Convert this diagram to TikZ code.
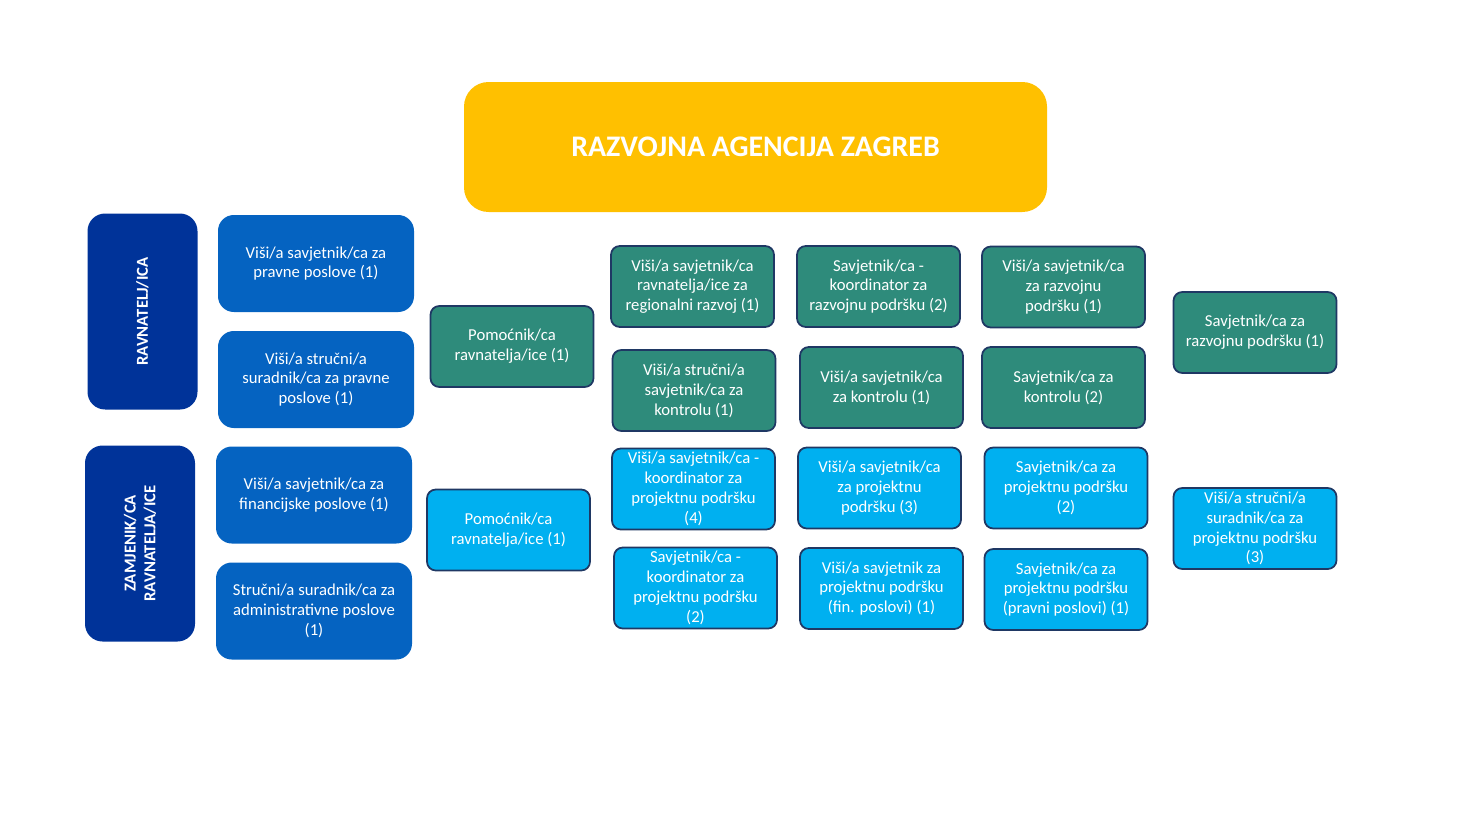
\documentclass[tikz,border=0pt]{standalone}
\usepackage{fontspec}
\setmainfont{Carlito}
\definecolor{razgold}{HTML}{FFC000}
\definecolor{razdark}{HTML}{003399}
\definecolor{razblue}{HTML}{0563C1}
\definecolor{razteal}{HTML}{2E8B7B}
\definecolor{razcyan}{HTML}{00B0F0}
\definecolor{razline}{HTML}{1F3864}
\tikzset{
  box/.style={rounded corners=5pt,align=center,text=white,inner sep=1pt,
    font=\fontsize{9.5}{11.3}\selectfont},
  bluebox/.style={box,fill=razblue,minimum width=3.92cm,minimum height=1.94cm,rounded corners=9pt},
  tealbox/.style={box,fill=razteal,draw=razline,line width=1pt,minimum width=3.26cm,minimum height=1.62cm},
  cyanbox/.style={box,fill=razcyan,draw=razline,line width=1pt,minimum width=3.26cm,minimum height=1.62cm},
  headbox/.style={box,fill=razdark,minimum width=2.2cm,minimum height=3.92cm,rounded corners=10pt,
    font=\fontsize{9.5}{11.3}\selectfont\bfseries}
}
\begin{document}
\begin{tikzpicture}
  \useasboundingbox (0,0) rectangle (29.3,-16.42);
  \node[box,fill=razgold,minimum width=11.66cm,minimum height=2.6cm,rounded corners=14pt,
        font=\fontsize{17}{20}\selectfont\bfseries] (raz) at (15.11,-2.94) {RAZVOJNA AGENCIJA ZAGREB};

  \node[headbox] (rav) at (2.85,-6.23) {};
  \node[rotate=90,text=white,font=\fontsize{9.5}{11.3}\selectfont\bfseries] (ravt) at (rav) {RAVNATELJ/ICA};
  \node[headbox] (zam) at (2.8,-10.87) {};
  \node[rotate=90,text=white,align=center,font=\fontsize{9.5}{11.3}\selectfont\bfseries] (zamt) at (zam) {ZAMJENIK/CA\\RAVNATELJA/ICE};

  \node[bluebox] (b1) at (6.32,-5.27) {Viši/a savjetnik/ca za\\pravne poslove (1)};
  \node[bluebox] (b2) at (6.32,-7.59) {Viši/a stručni/a\\suradnik/ca za pravne\\poslove (1)};
  \node[bluebox] (b3) at (6.28,-9.9) {Viši/a savjetnik/ca za\\financijske poslove (1)};
  \node[bluebox] (b4) at (6.28,-12.22) {Stručni/a suradnik/ca za\\administrativne poslove\\(1)};

  \node[tealbox] (p1) at (10.24,-6.93) {Pomoćnik/ca\\ravnatelja/ice (1)};
  \node[tealbox] (t1) at (13.85,-5.73) {Viši/a savjetnik/ca\\ravnatelja/ice za\\regionalni razvoj (1)};
  \node[tealbox] (t2) at (17.57,-5.73) {Savjetnik/ca -\\koordinator za\\razvojnu podršku (2)};
  \node[tealbox] (t3) at (21.27,-5.74) {Viši/a savjetnik/ca\\za razvojnu\\podršku (1)};
  \node[tealbox] (t4) at (25.1,-6.65) {Savjetnik/ca za\\razvojnu podršku (1)};
  \node[tealbox] (t5) at (13.88,-7.81) {Viši/a stručni/a\\savjetnik/ca za\\kontrolu (1)};
  \node[tealbox] (t6) at (17.63,-7.75) {Viši/a savjetnik/ca\\za kontrolu (1)};
  \node[tealbox] (t7) at (21.27,-7.75) {Savjetnik/ca za\\kontrolu (2)};

  \node[cyanbox] (p2) at (10.17,-10.6) {Pomoćnik/ca\\ravnatelja/ice (1)};
  \node[cyanbox] (c1) at (13.87,-9.78) {Viši/a savjetnik/ca -\\koordinator za\\projektnu podršku\\(4)};
  \node[cyanbox] (c2) at (17.59,-9.76) {Viši/a savjetnik/ca\\za projektnu\\podršku (3)};
  \node[cyanbox] (c3) at (21.32,-9.76) {Savjetnik/ca za\\projektnu podršku\\(2)};
  \node[cyanbox] (c4) at (25.1,-10.57) {Viši/a stručni/a\\suradnik/ca za\\projektnu podršku\\(3)};
  \node[cyanbox] (c5) at (13.91,-11.76) {Savjetnik/ca -\\koordinator za\\projektnu podršku\\(2)};
  \node[cyanbox] (c6) at (17.63,-11.77) {Viši/a savjetnik za\\projektnu podršku\\(fin. poslovi) (1)};
  \node[cyanbox] (c7) at (21.32,-11.79) {Savjetnik/ca za\\projektnu podršku\\(pravni poslovi) (1)};
\end{tikzpicture}
\end{document}
